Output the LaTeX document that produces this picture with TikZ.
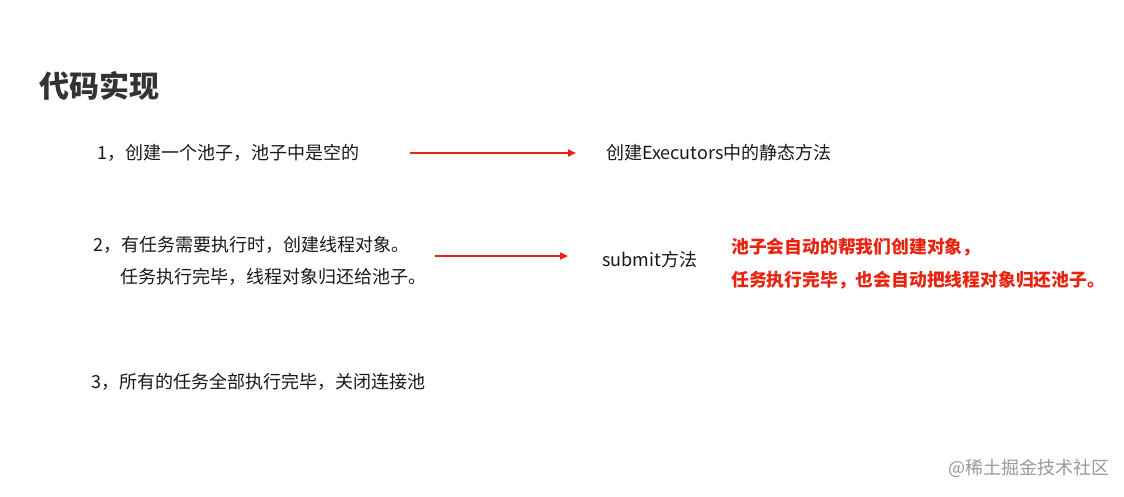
\documentclass[tikz,border=0pt]{standalone}
\usepackage{fontspec}
\setmainfont{Noto Sans CJK SC}
\usetikzlibrary{arrows.meta}
\definecolor{myred}{HTML}{E8230F}
\tikzset{
  txt/.style={anchor=west,inner sep=0pt,font=\fontsize{18}{20}\selectfont,text=black!90},
  redtxt/.style={anchor=west,inner sep=0pt,font=\fontsize{17.8}{20}\selectfont\bfseries,text=myred},
  arr/.style={draw=myred,line width=2.4pt,-{Triangle[length=8pt,width=7pt]}}
}
\begin{document}
\begin{tikzpicture}[x=1pt,y=-1pt]
\useasboundingbox[fill=white] (0,0) rectangle (1124,496);
\node[anchor=west,inner sep=0pt,font=\fontsize{30}{32}\selectfont\bfseries,text=black!80] (t) at (39,86) {代码实现};
\node[txt] (a1) at (97,153) {1，创建一个池子，池子中是空的};
\coordinate (s1) at (410,153); \coordinate (e1) at (576,153);
\draw[arr] (s1) -- (e1);
\node[txt] (b1) at (606,153) {创建Executors中的静态方法};
\node[txt] (a2) at (93,245) {2，有任务需要执行时，创建线程对象。};
\node[txt] (a2b) at (120,277) {任务执行完毕，线程对象归还给池子。};
\coordinate (s2) at (435,256); \coordinate (e2) at (568,256);
\draw[arr] (s2) -- (e2);
\node[txt] (b2) at (602,260) {submit方法};
\node[redtxt] (r1) at (731,247) {池子会自动的帮我们创建对象，};
\node[redtxt] (r2) at (731,280) {任务执行完毕，也会自动把线程对象归还池子。};
\node[txt] (a3) at (91,382) {3，所有的任务全部执行完毕，关闭连接池};
\node[anchor=west,inner sep=0pt,font=\fontsize{18}{20}\selectfont,text=black!40] (w) at (948,468) {@稀土掘金技术社区};
\end{tikzpicture}
\end{document}
